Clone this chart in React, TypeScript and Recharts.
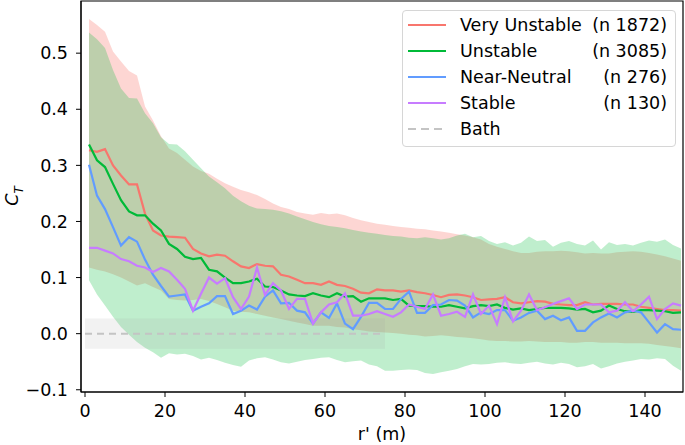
import { ComposedChart, Line, Area, XAxis, YAxis, ReferenceArea } from 'recharts';

const FONT = 'DejaVu Sans, Liberation Sans, sans-serif';
const FS = 17.5;

const R = [
  1, 3, 5, 7, 9, 11, 13, 15, 17, 19, 21, 23, 25, 27, 29, 31, 33, 35, 37, 39, 41, 43, 45, 47, 49,
  51, 53, 55, 57, 59, 61, 63, 65, 67, 69, 71, 73, 75, 77, 79, 81, 83, 85, 87, 89, 91, 93, 95, 97, 99,
  101, 103, 105, 107, 109, 111, 113, 115, 117, 119, 121, 123, 125, 127, 129, 131, 133, 135, 137, 139, 141, 143, 145, 147, 149,
];

const veryUnstable = [
  0.327, 0.324, 0.329, 0.3, 0.282, 0.266, 0.266, 0.214, 0.184, 0.175, 0.173, 0.172, 0.171, 0.151, 0.143,
  0.138, 0.141, 0.139, 0.129, 0.12, 0.117, 0.124, 0.121, 0.12, 0.105, 0.102, 0.096, 0.09, 0.09, 0.087,
  0.093, 0.087, 0.085, 0.08, 0.073, 0.072, 0.079, 0.077, 0.077, 0.075, 0.077, 0.074, 0.072, 0.069, 0.065,
  0.069, 0.07, 0.068, 0.065, 0.06, 0.061, 0.062, 0.065, 0.056, 0.054, 0.056, 0.058, 0.057, 0.053, 0.052,
  0.051, 0.051, 0.056, 0.052, 0.053, 0.053, 0.053, 0.052, 0.052, 0.048, 0.046, 0.044, 0.042, 0.042, 0.041,
];

const unstable = [
  0.337, 0.309, 0.297, 0.267, 0.238, 0.218, 0.211, 0.211, 0.196, 0.184, 0.16, 0.151, 0.137, 0.133, 0.135,
  0.114, 0.111, 0.1, 0.09, 0.09, 0.093, 0.098, 0.084, 0.083, 0.077, 0.07, 0.068, 0.067, 0.072, 0.068,
  0.065, 0.072, 0.066, 0.067, 0.057, 0.063, 0.063, 0.063, 0.06, 0.062, 0.05, 0.049, 0.049, 0.048, 0.048,
  0.051, 0.048, 0.045, 0.049, 0.051, 0.049, 0.052, 0.046, 0.043, 0.045, 0.042, 0.044, 0.046, 0.046, 0.046,
  0.045, 0.043, 0.044, 0.038, 0.041, 0.05, 0.044, 0.04, 0.039, 0.042, 0.042, 0.041, 0.04, 0.037, 0.038,
];

const nearNeutral = [
  0.301, 0.246, 0.222, 0.19, 0.157, 0.172, 0.164, 0.132, 0.105, 0.085, 0.066, 0.068, 0.07, 0.041, 0.048,
  0.054, 0.067, 0.067, 0.035, 0.041, 0.05, 0.043, 0.066, 0.077, 0.054, 0.055, 0.041, 0.038, 0.018, 0.038,
  0.028, 0.054, 0.018, 0.008, 0.03, 0.055, 0.055, 0.044, 0.044, 0.062, 0.075, 0.037, 0.037, 0.051, 0.052,
  0.06, 0.059, 0.05, 0.029, 0.038, 0.035, 0.042, 0.042, 0.023, 0.029, 0.037, 0.041, 0.026, 0.032, 0.024,
  0.029, 0.005, 0.005, 0.02, 0.029, 0.036, 0.029, 0.038, 0.041, 0.038, 0.02, 0.002, 0.017, 0.008, 0.007,
];

const stable = [
  0.153, 0.153, 0.148, 0.143, 0.133, 0.129, 0.121, 0.118, 0.11, 0.117, 0.111, 0.096, 0.08, 0.041, 0.071,
  0.1, 0.089, 0.099, 0.065, 0.044, 0.066, 0.118, 0.069, 0.09, 0.077, 0.044, 0.062, 0.062, 0.018, 0.038,
  0.052, 0.056, 0.072, 0.032, 0.032, 0.035, 0.04, 0.035, 0.03, 0.038, 0.052, 0.048, 0.044, 0.07, 0.032,
  0.035, 0.039, 0.03, 0.07, 0.035, 0.05, 0.017, 0.065, 0.022, 0.041, 0.07, 0.042, 0.047, 0.053, 0.058,
  0.063, 0.044, 0.052, 0.052, 0.052, 0.038, 0.041, 0.056, 0.04, 0.052, 0.066, 0.026, 0.044, 0.054, 0.05,
];

// spread bands (mean +/- std) for the two unstable classes
const veryUnstableHi = [
  0.561, 0.55, 0.538, 0.503, 0.485, 0.468, 0.46, 0.405, 0.38, 0.352, 0.33, 0.322, 0.31, 0.298, 0.29,
  0.285, 0.276, 0.268, 0.262, 0.256, 0.252, 0.247, 0.24, 0.232, 0.226, 0.222, 0.217, 0.214, 0.212, 0.215,
  0.213, 0.214, 0.211, 0.206, 0.202, 0.199, 0.196, 0.194, 0.192, 0.19, 0.189, 0.187, 0.186, 0.184, 0.182,
  0.18, 0.177, 0.175, 0.172, 0.168, 0.16, 0.155, 0.151, 0.147, 0.144, 0.144, 0.146, 0.147, 0.147, 0.148,
  0.147, 0.145, 0.143, 0.144, 0.143, 0.143, 0.145, 0.146, 0.147, 0.146, 0.144, 0.141, 0.138, 0.134, 0.13,
];

const veryUnstableLo = [
  0.118, 0.114, 0.111, 0.106, 0.1, 0.093, 0.086, 0.09, 0.083, 0.077, 0.062, 0.06, 0.059, 0.06, 0.062,
  0.058, 0.053, 0.047, 0.041, 0.039, 0.038, 0.035, 0.032, 0.029, 0.026, 0.023, 0.02, 0.017, 0.014, 0.014,
  0.014, 0.012, 0.011, 0.008, 0.006, 0.004, 0.003, 0.002, 0.001, 0.0, -0.002, -0.003, -0.005, -0.004, -0.003,
  -0.004, -0.006, -0.007, -0.008, -0.01, -0.012, -0.013, -0.013, -0.014, -0.014, -0.013, -0.014, -0.015, -0.015, -0.015,
  -0.016, -0.016, -0.015, -0.015, -0.016, -0.016, -0.016, -0.017, -0.017, -0.017, -0.018, -0.02, -0.022, -0.024, -0.026,
];

const unstableHi = [
  0.537, 0.525, 0.509, 0.47, 0.437, 0.42, 0.419, 0.393, 0.375, 0.35, 0.338, 0.337, 0.325, 0.31, 0.295,
  0.28, 0.27, 0.259, 0.246, 0.236, 0.228, 0.223, 0.222, 0.221, 0.218, 0.214, 0.209, 0.204, 0.199, 0.195,
  0.192, 0.19, 0.188, 0.185, 0.182, 0.18, 0.178, 0.176, 0.174, 0.173, 0.171, 0.17, 0.172, 0.17, 0.168,
  0.17, 0.175, 0.178, 0.172, 0.174, 0.165, 0.16, 0.163, 0.157, 0.162, 0.173, 0.165, 0.167, 0.155, 0.162,
  0.165, 0.16, 0.157, 0.166, 0.15, 0.163, 0.158, 0.16, 0.157, 0.162, 0.166, 0.164, 0.168, 0.158, 0.152,
];

const unstableLo = [
  0.095, 0.07, 0.05, 0.03, 0.012, -0.002, -0.015, -0.025, -0.033, -0.043, -0.035, -0.037, -0.036, -0.04, -0.046,
  -0.043, -0.047, -0.052, -0.056, -0.059, -0.048, -0.044, -0.042, -0.046, -0.051, -0.053, -0.05, -0.047, -0.045, -0.043,
  -0.042, -0.047, -0.051, -0.049, -0.048, -0.055, -0.058, -0.066, -0.066, -0.065, -0.064, -0.065, -0.07, -0.072, -0.069,
  -0.066, -0.063, -0.058, -0.054, -0.055, -0.054, -0.052, -0.051, -0.053, -0.054, -0.052, -0.05, -0.053, -0.055, -0.052,
  -0.054, -0.06, -0.058, -0.054, -0.062, -0.058, -0.053, -0.05, -0.048, -0.045, -0.046, -0.044, -0.045, -0.057, -0.066,
];

const bathR = [0, 25, 50, 75];
const bathMean = [0, 0, 0, 0];
const bathLo = [-0.027, -0.027, -0.027, -0.027];
const bathHi = [0.027, 0.027, 0.027, 0.027];

const xTicks = [0, 20, 40, 60, 80, 100, 120, 140];
const yTicks = [-0.1, 0, 0.1, 0.2, 0.3, 0.4, 0.5];

const legendItems = [
  { name: 'Very Unstable', n: '(n 1872)', color: '#F8766D', dashed: false },
  { name: 'Unstable', n: '(n 3085)', color: '#00BA38', dashed: false },
  { name: 'Near-Neutral', n: '(n 276)', color: '#619CFF', dashed: false },
  { name: 'Stable', n: '(n 130)', color: '#C77CFF', dashed: false },
  { name: 'Bath', n: '', color: '#c4c4c4', dashed: true },
];

const rows = R.map((r, i) => ({
  r,
  vu: veryUnstable[i],
  u: unstable[i],
  nn: nearNeutral[i],
  s: stable[i],
  vuBand: [veryUnstableLo[i], veryUnstableHi[i]],
  uBand: [unstableLo[i], unstableHi[i]],
}));

const bathRows = bathR.map((r, i) => ({ r, mean: bathMean[i], band: [bathLo[i], bathHi[i]] }));

const fmt = (v: number) => v.toFixed(1).replace('-', '\u2212');

function ChartLegend() {
  return (
    <div
      style={{
        position: 'absolute',
        left: 402,
        top: 10,
        width: 272,
        height: 135,
        border: '1px solid #d6d6d6',
        borderRadius: 4,
        background: 'rgba(255,255,255,0.8)',
        fontFamily: FONT,
        fontSize: FS,
        color: '#000',
      }}
    >
      {legendItems.map((it, i) => (
        <div
          key={it.name}
          style={{ position: 'absolute', top: 0.5 + i * 26, left: 0, right: 0, height: 26, display: 'flex', alignItems: 'center' }}
        >
          <svg width={40} height={6} style={{ marginLeft: 5, flexShrink: 0 }}>
            <line
              x1={0}
              y1={3}
              x2={38}
              y2={3}
              stroke={it.color}
              strokeWidth={2.2}
              strokeDasharray={it.dashed ? '8 5' : undefined}
            />
          </svg>
          <span style={{ marginLeft: 12, whiteSpace: 'nowrap' }}>{it.name}</span>
          <span style={{ marginLeft: 'auto', marginRight: 8, whiteSpace: 'nowrap' }}>{it.n}</span>
        </div>
      ))}
    </div>
  );
}

export default function App() {
  return (
    <div style={{ position: 'absolute', left: 0, top: 0, width: 685, height: 445, background: '#fff', overflow: 'hidden' }}>
      <ComposedChart width={685} height={445} data={rows} margin={{ top: 1, right: 2, left: 0, bottom: 0 }}>
        <XAxis
          dataKey="r"
          type="number"
          domain={[-1, 149.5]}
          ticks={xTicks}
          allowDataOverflow
          height={53}
          tickSize={5}
          tickMargin={8}
          stroke="#000"
          tick={{ fontSize: FS, fill: '#000', fontFamily: FONT }}
        />
        <YAxis
          type="number"
          domain={[-0.104, 0.593]}
          ticks={yTicks}
          allowDataOverflow
          width={81}
          tickSize={5}
          tickMargin={8}
          tickFormatter={fmt}
          stroke="#000"
          tick={{ fontSize: FS, fill: '#000', fontFamily: FONT }}
        />
        <Area
          type="linear"
          dataKey="vuBand"
          stroke="none"
          fill="#F8766D"
          fillOpacity={0.3}
          isAnimationActive={false}
        />
        <Area
          type="linear"
          dataKey="uBand"
          stroke="none"
          fill="#00BA38"
          fillOpacity={0.25}
          isAnimationActive={false}
        />
        <Area
          data={bathRows}
          type="linear"
          dataKey="band"
          stroke="none"
          fill="#a0a0a0"
          fillOpacity={0.14}
          isAnimationActive={false}
        />
        <Line
          data={bathRows}
          type="linear"
          dataKey="mean"
          stroke="#c4c4c4"
          strokeWidth={2}
          strokeDasharray="7 5"
          dot={false}
          isAnimationActive={false}
        />
        <Line type="linear" dataKey="vu" stroke="#F8766D" strokeWidth={2.2} dot={false} isAnimationActive={false} />
        <Line type="linear" dataKey="u" stroke="#00BA38" strokeWidth={2.2} dot={false} isAnimationActive={false} />
        <Line type="linear" dataKey="nn" stroke="#619CFF" strokeWidth={2.2} dot={false} isAnimationActive={false} />
        <Line type="linear" dataKey="s" stroke="#C77CFF" strokeWidth={2.2} dot={false} isAnimationActive={false} />
        <ReferenceArea x1={-1} x2={149.5} y1={-0.104} y2={0.593} fill="none" stroke="#000" strokeWidth={1.2} />
      </ComposedChart>
      <div
        style={{
          position: 'absolute',
          left: 424,
          top: 424,
          transform: 'translateX(-50%)',
          fontFamily: FONT,
          fontSize: FS,
          lineHeight: '20px',
          whiteSpace: 'nowrap',
          display: 'none',
        }}
      />
      <div
        style={{
          position: 'absolute',
          left: 382,
          top: 424,
          transform: 'translateX(-50%)',
          fontFamily: FONT,
          fontSize: FS,
          lineHeight: '20px',
          whiteSpace: 'nowrap',
        }}
      >
        r' (m)
      </div>
      <div
        style={{
          position: 'absolute',
          left: 12,
          top: 196,
          transform: 'translate(-50%, -50%) rotate(-90deg)',
          fontFamily: FONT,
          fontSize: FS,
          lineHeight: '20px',
          whiteSpace: 'nowrap',
        }}
      >
        <i>C</i>
        <sub style={{ fontSize: 12, fontStyle: 'italic', lineHeight: 0 }}>T</sub>
      </div>
      <ChartLegend />
    </div>
  );
}
